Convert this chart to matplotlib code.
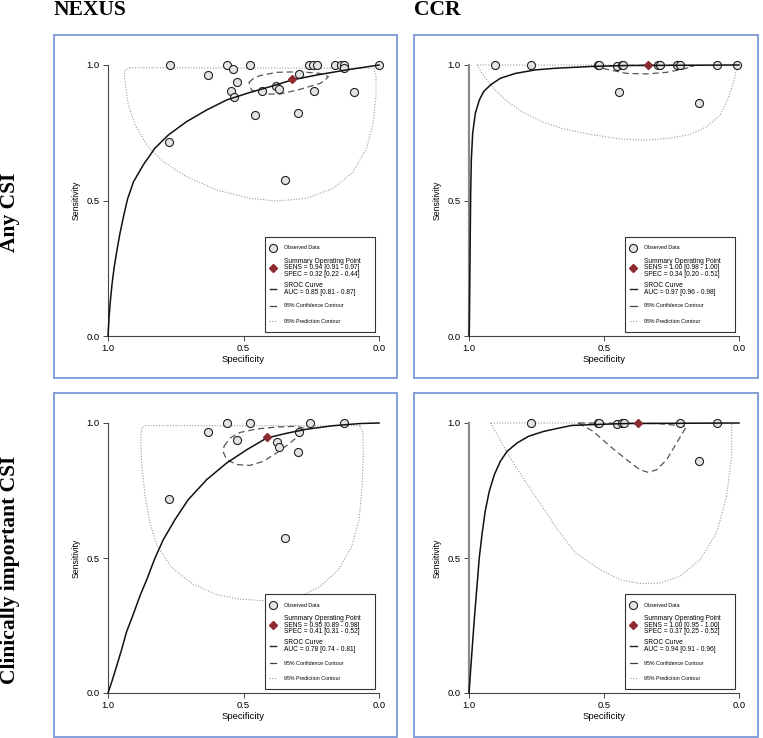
import matplotlib

matplotlib.use("Agg")
import matplotlib.pyplot as plt
from matplotlib.patches import Rectangle

W, H = 763, 738

column_titles = ["NEXUS", "CCR"]
row_titles = ["Any CSI", "Clinically important CSI"]

# --- NEXUS, any CSI ---
nexus_any_obs_spec = [0.771, 0.775, 0.630, 0.562, 0.538, 0.523, 0.546, 0.535, 0.476, 0.459, 0.433, 0.380, 0.368,
                      0.346, 0.299, 0.295, 0.257, 0.242, 0.230, 0.239, 0.162, 0.141, 0.128, 0.129, 0.092, 0.0]
nexus_any_obs_sens = [1.0, 0.717, 0.963, 1.0, 0.985, 0.938, 0.904, 0.883, 1.0, 0.815, 0.904, 0.922, 0.910,
                      0.574, 0.822, 0.968, 1.0, 1.0, 1.0, 0.905, 1.0, 1.0, 1.0, 0.990, 0.902, 1.0]
nexus_any_summary = (0.320, 0.947)
nexus_any_sroc_spec = [1.0, 0.996, 0.991, 0.985, 0.977, 0.967, 0.956, 0.943, 0.928, 0.906, 0.870, 0.827, 0.777,
                       0.710, 0.636, 0.562, 0.488, 0.402, 0.320, 0.230, 0.119, 0.0]
nexus_any_sroc_sens = [0.0, 0.070, 0.132, 0.193, 0.255, 0.316, 0.378, 0.440, 0.505, 0.569, 0.631, 0.693, 0.742,
                       0.791, 0.834, 0.871, 0.895, 0.920, 0.945, 0.963, 0.982, 1.0]
nexus_any_ci_spec = [0.480, 0.462, 0.439, 0.378, 0.292, 0.218, 0.187, 0.200, 0.218, 0.292, 0.365, 0.427, 0.470, 0.480]
nexus_any_ci_sens = [0.936, 0.951, 0.961, 0.973, 0.975, 0.969, 0.957, 0.943, 0.932, 0.910, 0.893, 0.893, 0.907, 0.936]
nexus_any_pi_spec = [0.919, 0.937, 0.940, 0.934, 0.925, 0.900, 0.857, 0.796, 0.710, 0.599, 0.476, 0.378, 0.267,
                     0.169, 0.095, 0.046, 0.021, 0.011, 0.011, 0.018, 0.919]
nexus_any_pi_sens = [0.990, 0.982, 0.963, 0.914, 0.852, 0.779, 0.705, 0.643, 0.588, 0.539, 0.508, 0.498, 0.508,
                     0.545, 0.606, 0.692, 0.791, 0.889, 0.963, 0.988, 0.990]
nexus_any_legend = ["SENS = 0.94 [0.91 - 0.97]", "SPEC = 0.32 [0.22 - 0.44]", "AUC = 0.85 [0.81 - 0.87]"]

# --- CCR, any CSI ---
ccr_any_obs_spec = [0.904, 0.770, 0.521, 0.517, 0.451, 0.435, 0.428, 0.301, 0.293, 0.231, 0.219, 0.083, 0.006,
                    0.443, 0.147]
ccr_any_obs_sens = [1.0, 1.0, 1.0, 1.0, 0.996, 1.0, 1.0, 1.0, 1.0, 1.0, 1.0, 1.0, 1.0, 0.901, 0.858]
ccr_any_summary = (0.338, 1.0)
ccr_any_sroc_spec = [1.0, 0.9988, 0.9963, 0.9938, 0.9914, 0.9864, 0.9765, 0.9617, 0.9457, 0.921, 0.884, 0.828,
                     0.754, 0.680, 0.619, 0.540, 0.420, 0.0]
ccr_any_sroc_sens = [0.0, 0.034, 0.280, 0.526, 0.649, 0.748, 0.822, 0.871, 0.902, 0.926, 0.951, 0.969, 0.982,
                     0.988, 0.991, 0.995, 0.998, 1.0]
ccr_any_ci_spec = [0.540, 0.478, 0.416, 0.342, 0.268, 0.206, 0.169, 0.250, 0.350, 0.450, 0.540]
ccr_any_ci_sens = [0.994, 0.982, 0.969, 0.967, 0.973, 0.985, 0.996, 0.999, 0.999, 0.998, 0.994]
ccr_any_pi_spec = [0.970, 0.952, 0.915, 0.865, 0.804, 0.730, 0.656, 0.540, 0.441, 0.342, 0.256, 0.181, 0.120,
                   0.070, 0.040, 0.019, 0.009, 0.009, 0.970]
ccr_any_pi_sens = [1.0, 0.969, 0.920, 0.871, 0.828, 0.791, 0.766, 0.742, 0.727, 0.723, 0.730, 0.744, 0.772,
                   0.815, 0.877, 0.938, 0.988, 1.0, 1.0]
ccr_any_legend = ["SENS = 1.00 [0.98 - 1.00]", "SPEC = 0.34 [0.20 - 0.51]", "AUC = 0.97 [0.96 - 0.98]"]

# --- NEXUS, clinically important CSI ---
nexus_ci_obs_spec = [0.775, 0.630, 0.562, 0.523, 0.476, 0.378, 0.368, 0.346, 0.300, 0.295, 0.255, 0.128]
nexus_ci_obs_sens = [0.719, 0.965, 1.0, 0.938, 1.0, 0.930, 0.910, 0.573, 0.893, 0.968, 1.0, 1.0]
nexus_ci_summary = (0.412, 0.948)
nexus_ci_sroc_spec = [1.0, 0.985, 0.968, 0.950, 0.931, 0.905, 0.882, 0.857, 0.827, 0.796, 0.753, 0.704, 0.636,
                      0.562, 0.488, 0.415, 0.341, 0.267, 0.169, 0.070, 0.0]
nexus_ci_sroc_sens = [0.0, 0.045, 0.100, 0.160, 0.228, 0.296, 0.360, 0.420, 0.499, 0.568, 0.642, 0.716, 0.790,
                      0.852, 0.901, 0.944, 0.962, 0.977, 0.990, 0.998, 1.0]
nexus_ci_ci_spec = [0.572, 0.550, 0.513, 0.451, 0.378, 0.304, 0.277, 0.292, 0.328, 0.378, 0.427, 0.476, 0.525,
                    0.562, 0.574, 0.572]
nexus_ci_ci_sens = [0.914, 0.944, 0.965, 0.978, 0.985, 0.988, 0.981, 0.957, 0.926, 0.889, 0.858, 0.843, 0.846,
                    0.864, 0.891, 0.914]
nexus_ci_pi_spec = [0.070, 0.862, 0.876, 0.879, 0.876, 0.863, 0.845, 0.818, 0.765, 0.690, 0.600, 0.520, 0.470,
                    0.390, 0.292, 0.218, 0.150, 0.101, 0.074, 0.062, 0.058, 0.060, 0.070]
nexus_ci_pi_sens = [0.990, 0.990, 0.981, 0.938, 0.852, 0.728, 0.630, 0.543, 0.465, 0.405, 0.365, 0.348, 0.345,
                    0.339, 0.357, 0.394, 0.456, 0.542, 0.640, 0.764, 0.887, 0.963, 0.990]
nexus_ci_legend = ["SENS = 0.95 [0.89 - 0.98]", "SPEC = 0.41 [0.31 - 0.52]", "AUC = 0.78 [0.74 - 0.81]"]

# --- CCR, clinically important CSI ---
ccr_ci_obs_spec = [0.770, 0.521, 0.517, 0.453, 0.435, 0.426, 0.219, 0.083, 0.147]
ccr_ci_obs_sens = [1.0, 1.0, 1.0, 0.996, 1.0, 1.0, 1.0, 1.0, 0.860]
ccr_ci_summary = (0.374, 1.0)
ccr_ci_sroc_spec = [1.0, 0.989, 0.980, 0.970, 0.962, 0.952, 0.940, 0.925, 0.906, 0.884, 0.859, 0.822, 0.779,
                    0.723, 0.668, 0.619, 0.540, 0.420, 0.0]
ccr_ci_sroc_sens = [0.0, 0.154, 0.278, 0.401, 0.500, 0.586, 0.673, 0.747, 0.809, 0.858, 0.895, 0.926, 0.951,
                    0.969, 0.981, 0.991, 0.994, 0.998, 1.0]
ccr_ci_ci_spec = [0.595, 0.540, 0.478, 0.416, 0.367, 0.336, 0.305, 0.268, 0.231, 0.194, 0.300, 0.450, 0.595]
ccr_ci_ci_sens = [1.0, 0.969, 0.914, 0.864, 0.827, 0.817, 0.827, 0.864, 0.926, 0.988, 0.998, 0.999, 1.0]
ccr_ci_pi_spec = [0.921, 0.902, 0.865, 0.816, 0.767, 0.717, 0.668, 0.605, 0.515, 0.441, 0.367, 0.293, 0.219,
                  0.144, 0.083, 0.046, 0.027, 0.027, 0.921]
ccr_ci_pi_sens = [1.0, 0.969, 0.901, 0.821, 0.747, 0.673, 0.599, 0.519, 0.457, 0.420, 0.405, 0.407, 0.432,
                  0.494, 0.593, 0.728, 0.877, 1.0, 1.0]
ccr_ci_legend = ["SENS = 1.00 [0.95 - 1.00]", "SPEC = 0.37 [0.25 - 0.52]", "AUC = 0.94 [0.91 - 0.96]"]

SANS = "Liberation Sans"
SERIF = "Liberation Serif"
FRAME_COLOR = "#6f8fd3"
SUMMARY_COLOR = "#8b2a2f"


def fig_rect(x0, y0, x1, y1):
    """pixel box (top-left origin) -> figure fraction [left, bottom, width, height]"""
    return [x0 / W, 1 - y1 / H, (x1 - x0) / W, (y1 - y0) / H]


def draw_legend(ax, lines):
    box = Rectangle((0.579, 0.015), 0.406, 0.35, transform=ax.transAxes, facecolor="white",
                    edgecolor="#333333", lw=0.8, zorder=6)
    ax.add_patch(box)
    mx, tx = 0.609, 0.649
    kw = dict(transform=ax.transAxes, zorder=7, clip_on=False)
    ax.plot([mx], [0.325], "o", ms=5.8, mfc="#e4e4e4", mec="#222222", mew=0.8, **kw)
    ax.text(tx, 0.325, "Observed Data", fontsize=3.8, va="center", family=SANS, zorder=7, transform=ax.transAxes)
    ax.plot([mx], [0.251], "D", ms=4.2, color=SUMMARY_COLOR, **kw)
    ax.text(tx, 0.251, "Summary Operating Point\n" + lines[0] + "\n" + lines[1], fontsize=4.8, va="center",
            linespacing=0.95, family=SANS, zorder=7, transform=ax.transAxes)
    ax.plot([mx - 0.012, mx + 0.012], [0.173, 0.173], color="#222222", lw=1.0, **kw)
    ax.text(tx, 0.173, "SROC Curve\n" + lines[2], fontsize=4.8, va="center", linespacing=0.95,
            family=SANS, zorder=7, transform=ax.transAxes)
    ax.plot([mx - 0.012, mx + 0.012], [0.111, 0.111], color="#444444", lw=0.9, **kw)
    ax.text(tx, 0.111, "95% Confidence Contour", fontsize=3.8, va="center", family=SANS, zorder=7,
            transform=ax.transAxes)
    ax.plot([mx - 0.014, mx + 0.014], [0.055, 0.055], ls=(0, (1, 1.5)), color="#9a9a9a", lw=0.8, **kw)
    ax.text(tx, 0.055, "95% Prediction Contour", fontsize=3.8, va="center", family=SANS, zorder=7,
            transform=ax.transAxes)


def draw_panel(ax, obs_spec, obs_sens, summary, sroc_spec, sroc_sens, ci_spec, ci_sens, pi_spec, pi_sens,
               legend_lines, thick_left):
    ax.plot(pi_spec, pi_sens, ls=(0, (1, 1.5)), color="#9a9a9a", lw=0.8, zorder=2, clip_on=False)
    ax.plot(ci_spec, ci_sens, ls=(0, (5, 3)), color="#555555", lw=0.9, zorder=2, clip_on=False)
    ax.plot(obs_spec, obs_sens, "o", ms=5.8, mfc="#e4e4e4", mec="#222222", mew=0.8, zorder=3, clip_on=False)
    ax.plot(sroc_spec, sroc_sens, color="#111111", lw=1.1, zorder=4, clip_on=False)
    ax.plot([summary[0]], [summary[1]], "D", ms=4.2, color=SUMMARY_COLOR, zorder=5, clip_on=False)

    ax.set_xlim(1, 0)
    ax.set_ylim(0, 1)
    ax.set_xticks([1.0, 0.5, 0.0], ["1.0", "0.5", "0.0"])
    ax.set_yticks([0.0, 0.5, 1.0], ["0.0", "0.5", "1.0"])
    for side in ("top", "right"):
        ax.spines[side].set_visible(False)
    ax.spines["bottom"].set_color("#444444")
    ax.spines["bottom"].set_linewidth(0.8)
    if thick_left:
        ax.spines["left"].set_color("#8a8a8a")
        ax.spines["left"].set_linewidth(1.6)
    else:
        ax.spines["left"].set_color("#444444")
        ax.spines["left"].set_linewidth(0.8)
    ax.tick_params(length=3.5, width=0.7, color="#444444", labelsize=6.8, pad=2.5)
    for lab in ax.get_xticklabels() + ax.get_yticklabels():
        lab.set_family(SANS)
    ax.set_xlabel("Specificity", fontsize=6.8, family=SANS, labelpad=1.5)
    ax.set_ylabel("Sensitivity", fontsize=6.3, family=SANS, labelpad=4)
    ax.patch.set_alpha(0)
    draw_legend(ax, legend_lines)


def main() -> None:
    fig = plt.figure(figsize=(W / 100, H / 100), dpi=100)

    frames = [(54, 35, 397, 378), (414, 35, 758, 378), (54, 393, 397, 737), (414, 393, 758, 737)]
    for x0, y0, x1, y1 in frames:
        fig.add_artist(Rectangle((x0 / W, 1 - y1 / H), (x1 - x0) / W, (y1 - y0) / H, transform=fig.transFigure,
                                 fill=False, edgecolor=FRAME_COLOR, lw=1.2))

    panels = [
        (fig_rect(108, 65, 379, 336), nexus_any_obs_spec, nexus_any_obs_sens, nexus_any_summary,
         nexus_any_sroc_spec, nexus_any_sroc_sens, nexus_any_ci_spec, nexus_any_ci_sens,
         nexus_any_pi_spec, nexus_any_pi_sens, nexus_any_legend, False),
        (fig_rect(469, 65, 739, 336), ccr_any_obs_spec, ccr_any_obs_sens, ccr_any_summary,
         ccr_any_sroc_spec, ccr_any_sroc_sens, ccr_any_ci_spec, ccr_any_ci_sens,
         ccr_any_pi_spec, ccr_any_pi_sens, ccr_any_legend, True),
        (fig_rect(108, 423, 379, 693), nexus_ci_obs_spec, nexus_ci_obs_sens, nexus_ci_summary,
         nexus_ci_sroc_spec, nexus_ci_sroc_sens, nexus_ci_ci_spec, nexus_ci_ci_sens,
         nexus_ci_pi_spec, nexus_ci_pi_sens, nexus_ci_legend, False),
        (fig_rect(469, 423, 739, 693), ccr_ci_obs_spec, ccr_ci_obs_sens, ccr_ci_summary,
         ccr_ci_sroc_spec, ccr_ci_sroc_sens, ccr_ci_ci_spec, ccr_ci_ci_sens,
         ccr_ci_pi_spec, ccr_ci_pi_sens, ccr_ci_legend, True),
    ]
    for rect, *args in panels:
        ax = fig.add_axes(rect)
        draw_panel(ax, *args)

    fig.text(54 / W, 1 - 15 / H, column_titles[0], family=SERIF, fontweight="bold", fontsize=15.5,
             ha="left", va="baseline")
    fig.text(414 / W, 1 - 15 / H, column_titles[1], family=SERIF, fontweight="bold", fontsize=15.5,
             ha="left", va="baseline")
    fig.text(10 / W, 1 - 212 / H, row_titles[0], family=SERIF, fontweight="bold", fontsize=15.5,
             rotation=90, ha="center", va="center")
    fig.text(10 / W, 1 - 570 / H, row_titles[1], family=SERIF, fontweight="bold", fontsize=15.5,
             rotation=90, ha="center", va="center")

    fig.savefig("out.png", dpi=100)
    plt.close(fig)


if __name__ == "__main__":
    main()
